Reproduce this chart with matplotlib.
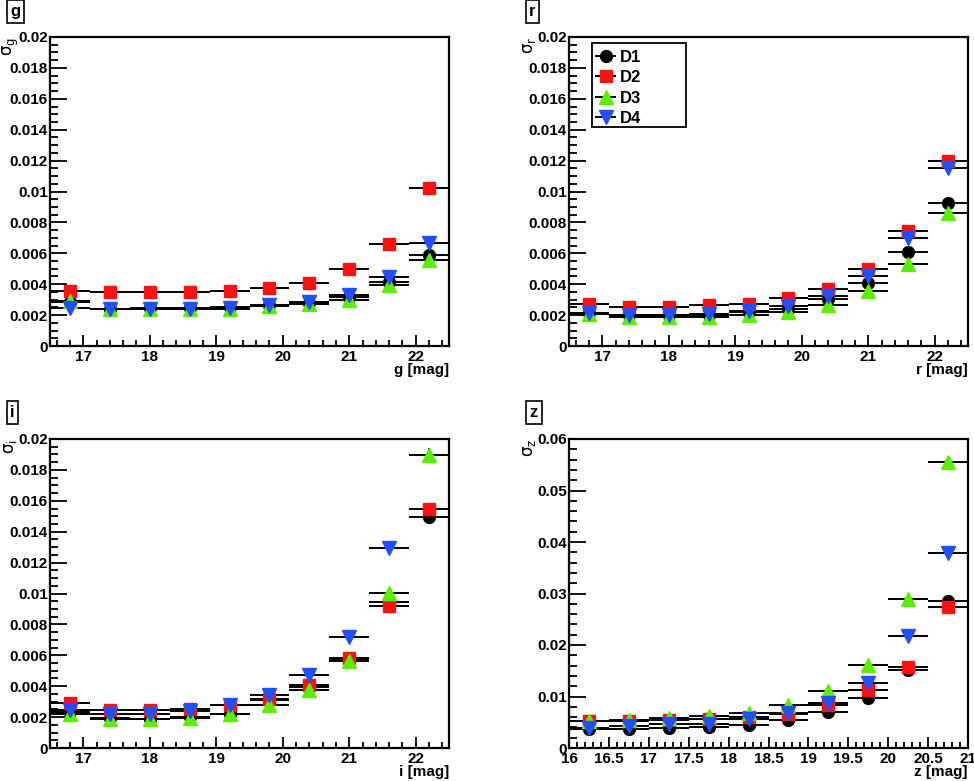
import numpy as np
import matplotlib
matplotlib.use('Agg')
import matplotlib.pyplot as plt
from matplotlib.ticker import MultipleLocator, FuncFormatter
from matplotlib.lines import Line2D
from matplotlib.patches import Rectangle

plt.rcParams['font.family'] = ['Liberation Sans', 'DejaVu Sans']
plt.rcParams['mathtext.fontset'] = 'dejavusans'

# ── bin centres ──────────────────────────────────────────────────────────
mag_gri = [16.8, 17.4, 18.0, 18.6, 19.2, 19.8, 20.4, 21.0, 21.6, 22.2]
mag_z = [16.25, 16.75, 17.25, 17.75, 18.25, 18.75, 19.25, 19.75, 20.25, 20.75]

# ── sigma per band, datasets D1..D4 ─────────────────────────────────────
g_d1 = [0.00287, 0.00239, 0.00244, 0.00244, 0.00250, 0.00265, 0.00280, 0.00319, 0.00416, 0.00588]
g_d2 = [0.00358, 0.00347, 0.00351, 0.00351, 0.00358, 0.00373, 0.00409, 0.00500, 0.00657, 0.01020]
g_d3 = [0.00290, 0.00240, 0.00240, 0.00240, 0.00240, 0.00259, 0.00270, 0.00300, 0.00394, 0.00556]
g_d4 = [0.00244, 0.00240, 0.00238, 0.00238, 0.00248, 0.00268, 0.00287, 0.00330, 0.00444, 0.00664]

r_d1 = [0.00211, 0.00198, 0.00198, 0.00203, 0.00218, 0.00241, 0.00302, 0.00405, 0.00606, 0.00925]
r_d2 = [0.00272, 0.00250, 0.00254, 0.00263, 0.00270, 0.00308, 0.00371, 0.00500, 0.00744, 0.01198]
r_d3 = [0.00205, 0.00190, 0.00190, 0.00190, 0.00200, 0.00222, 0.00265, 0.00358, 0.00528, 0.00858]
r_d4 = [0.00215, 0.00200, 0.00200, 0.00210, 0.00228, 0.00259, 0.00325, 0.00455, 0.00696, 0.01153]

i_d1 = [0.00233, 0.00195, 0.00190, 0.00200, 0.00220, 0.00310, 0.00395, 0.00573, 0.00947, 0.01492]
i_d2 = [0.00292, 0.00244, 0.00244, 0.00251, 0.00277, 0.00314, 0.00407, 0.00584, 0.00919, 0.01546]
i_d3 = [0.00218, 0.00190, 0.00186, 0.00195, 0.00223, 0.00277, 0.00374, 0.00564, 0.01001, 0.01894]
i_d4 = [0.00249, 0.00223, 0.00223, 0.00240, 0.00277, 0.00342, 0.00471, 0.00720, 0.01293, np.nan]
i_d3_err = [0, 0, 0, 0, 0, 0, 0, 0, 0.0002, 0.0005]

z_d1 = [0.00363, 0.00370, 0.00389, 0.00409, 0.00454, 0.00538, 0.00700, 0.00979, 0.01524, 0.02860]
z_d2 = [0.00519, 0.00525, 0.00538, 0.00571, 0.00603, 0.00655, 0.00843, 0.01122, 0.01576, 0.02731]
z_d3 = [0.00525, 0.00551, 0.00584, 0.00623, 0.00688, 0.00830, 0.01103, 0.01609, 0.02893, 0.05553]
z_d4 = [0.00396, 0.00422, 0.00460, 0.00473, 0.00571, 0.00681, 0.00882, 0.01265, 0.02173, 0.03782]

labels = ['D1', 'D2', 'D3', 'D4']
markers = ['o', 's', '^', 'v']
colors = ['black', '#ff1010', '#5cee00', '#1f4fff']
msizes = [8.5, 8.5, 9.5, 9.5]

W, H = 974, 781
fig = plt.figure(figsize=(W / 100, H / 100), dpi=100)


def px_axes(left, top, right, bottom):
    return fig.add_axes([left / W, 1 - bottom / H, (right - left) / W, (bottom - top) / H])


panels = [
    ('g', mag_gri, 0.3, [g_d1, g_d2, g_d3, g_d4], None, (16.5, 22.5), 0.02, (50, 37, 449, 346), (15.5, 11.5)),
    ('r', mag_gri, 0.3, [r_d1, r_d2, r_d3, r_d4], None, (16.5, 22.5), 0.02, (569, 37, 968, 346), (532.5, 11.5)),
    ('i', mag_gri, 0.3, [i_d1, i_d2, i_d3, i_d4], {2: i_d3_err}, (16.5, 22.5), 0.02, (50, 439, 449, 748), (12.5, 412.5)),
    ('z', mag_z, 0.25, [z_d1, z_d2, z_d3, z_d4], None, (16.0, 21.0), 0.06, (569, 439, 968, 748), (534, 412.5)),
]

fmt = FuncFormatter(lambda v, p: '%g' % round(v, 6))

for band, xs, xw, series, yerrs, xlim, ymax, box, lab_xy in panels:
    ax = px_axes(*box)
    for k, ys in enumerate(series):
        ye = None
        if yerrs is not None and k in yerrs:
            ye = yerrs[k]
        ax.errorbar(xs, ys, xerr=xw, yerr=ye, fmt=markers[k], color=colors[k],
                    ms=msizes[k], mec=colors[k], ecolor='black', elinewidth=1.4,
                    capsize=0, clip_on=True)
    ax.set_xlim(*xlim)
    ax.set_ylim(0, ymax)
    if band == 'z':
        ax.xaxis.set_major_locator(MultipleLocator(0.5))
        ax.xaxis.set_minor_locator(MultipleLocator(0.1))
        ax.yaxis.set_major_locator(MultipleLocator(0.01))
        ax.yaxis.set_minor_locator(MultipleLocator(0.002))
    else:
        ax.xaxis.set_major_locator(MultipleLocator(1))
        ax.xaxis.set_minor_locator(MultipleLocator(0.2))
        ax.yaxis.set_major_locator(MultipleLocator(0.002))
        ax.yaxis.set_minor_locator(MultipleLocator(0.0005))
    ax.xaxis.set_major_formatter(fmt)
    ax.yaxis.set_major_formatter(fmt)
    ax.tick_params(axis='both', which='both', direction='in', top=False, right=False,
                   labelsize=11, width=1.3)
    ax.tick_params(axis='y', which='major', length=12, pad=1.5)
    ax.tick_params(axis='y', which='minor', length=6)
    ax.tick_params(axis='x', which='major', length=8, pad=3)
    ax.tick_params(axis='x', which='minor', length=4)
    for lab in ax.get_xticklabels() + ax.get_yticklabels():
        lab.set_fontweight('bold')
    for sp in ax.spines.values():
        sp.set_linewidth(1.6)

    ax.set_xlabel('%s [mag]' % band, fontsize=11, fontweight='bold', ha='right', va='center')
    ax.xaxis.set_label_coords(1.0, -0.078)
    ax.set_ylabel(r'$\mathrm{\sigma}_{\mathrm{%s}}$' % band, fontsize=12, rotation=90,
                  ha='right', va='center')
    ax.yaxis.set_label_coords(-0.098, 1.0)

    fig.text(lab_xy[0] / W, 1 - lab_xy[1] / H, band, fontsize=12, fontweight='bold',
             ha='center', va='center',
             bbox=dict(boxstyle='square,pad=0.22', fc='white', ec='black', lw=1.2))

    if band == 'r':
        # legend frame drawn separately so its size follows the reference box
        ax.add_patch(Rectangle((0.0576, 0.709), 0.2356, 0.272, transform=ax.transAxes,
                               fill=True, fc='white', ec='black', lw=1.3, zorder=5))
        handles = [Line2D([], [], color='black', lw=1.4, marker=markers[k],
                          markerfacecolor=colors[k], markeredgecolor=colors[k],
                          ms=msizes[k]) for k in range(4)]
        leg = ax.legend(handles, labels, loc='upper left', bbox_to_anchor=(0.058, 0.972),
                        frameon=False, prop={'weight': 'bold', 'size': 12},
                        handlelength=1.15, handletextpad=0.25, labelspacing=0.33,
                        borderpad=0.25, borderaxespad=0)
        leg.set_zorder(6)

fig.savefig('out.png', dpi=100, facecolor='white')
